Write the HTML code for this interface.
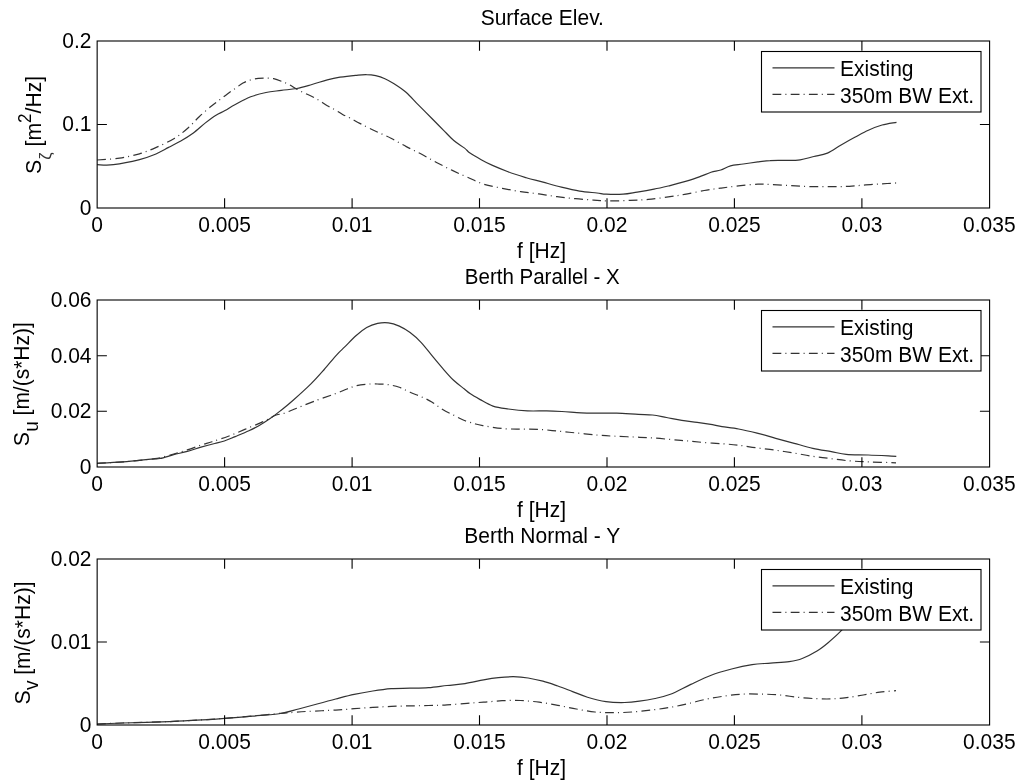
<!DOCTYPE html>
<html><head><meta charset="utf-8"><style>
html,body{margin:0;padding:0;background:#fff;width:1024px;height:783px;overflow:hidden}
svg{display:block;filter:grayscale(1)}
text{font-family:"Liberation Sans", sans-serif;font-size:21px;fill:#000}
</style></head><body>
<svg width="1024" height="783" viewBox="0 0 1024 783">
<rect width="1024" height="783" fill="#fff"/>
<g>
<path d="M97.2,164.7 C99.9,164.7 106.4,165.5 113.4,164.7 C120.5,163.8 132.7,161.3 139.5,159.6 C146.3,157.9 149.2,156.7 154.0,154.7 C158.8,152.7 164.1,149.7 168.6,147.4 C173.1,145.1 176.7,143.3 180.8,141.0 C184.9,138.7 188.9,136.3 193.0,133.3 C197.1,130.3 201.6,125.9 205.4,122.9 C209.2,119.9 212.7,117.2 216.0,115.2 C219.3,113.2 221.8,112.4 225.0,110.6 C228.2,108.8 231.0,106.8 235.3,104.5 C239.6,102.2 245.6,98.8 250.7,96.8 C255.8,94.8 260.9,93.6 266.0,92.5 C271.1,91.4 276.2,91.1 281.3,90.4 C286.4,89.7 291.6,89.5 296.7,88.5 C301.8,87.5 306.9,85.9 312.0,84.5 C317.1,83.1 322.6,81.1 327.3,79.9 C332.0,78.7 335.3,78.0 340.0,77.2 C344.7,76.4 351.3,75.7 355.7,75.3 C360.1,74.9 363.2,74.5 366.5,74.6 C369.8,74.6 372.6,74.9 375.7,75.6 C378.8,76.3 381.8,77.3 384.9,78.7 C388.0,80.1 390.5,81.5 394.1,83.8 C397.7,86.1 402.2,88.9 406.3,92.5 C410.4,96.1 414.2,100.8 418.6,105.2 C423.0,109.6 428.3,114.9 432.4,119.0 C436.5,123.1 439.5,126.2 443.1,129.8 C446.7,133.4 450.2,137.4 453.8,140.5 C457.4,143.6 461.9,146.0 464.6,148.1 C467.3,150.2 467.2,151.2 470.0,153.1 C472.8,155.0 477.4,157.6 481.2,159.7 C484.9,161.8 488.0,163.4 492.5,165.4 C497.0,167.4 502.4,169.6 508.0,171.7 C513.6,173.8 520.4,175.9 526.2,177.7 C532.1,179.4 537.2,180.6 543.1,182.2 C549.0,183.8 555.3,185.6 561.4,187.1 C567.5,188.6 573.7,190.1 579.6,191.1 C585.5,192.1 592.6,192.5 597.0,193.0 C601.4,193.5 601.9,194.0 606.2,194.2 C610.6,194.4 617.9,194.5 623.1,194.2 C628.3,193.8 632.1,192.9 637.2,192.1 C642.4,191.3 648.5,190.3 654.0,189.2 C659.5,188.1 664.9,186.8 670.0,185.6 C675.1,184.3 679.7,183.1 684.6,181.7 C689.5,180.2 694.9,178.5 699.3,176.9 C703.7,175.3 707.4,173.5 711.0,172.3 C714.6,171.2 717.5,171.1 720.8,170.0 C724.0,168.9 726.8,166.8 730.5,165.8 C734.2,164.8 738.6,164.7 743.2,164.0 C747.8,163.3 753.4,162.5 757.9,161.9 C762.4,161.3 765.5,160.8 770.0,160.6 C774.5,160.3 780.0,160.5 785.0,160.4 C790.0,160.3 795.3,160.5 800.1,159.8 C804.9,159.2 809.2,157.6 813.8,156.5 C818.3,155.4 822.8,155.0 827.4,153.1 C832.0,151.2 836.5,147.5 841.1,144.9 C845.7,142.3 850.2,139.8 854.8,137.3 C859.3,134.9 863.8,132.2 868.4,130.2 C873.0,128.1 877.4,126.3 882.1,125.0 C886.8,123.7 894.1,122.8 896.5,122.3" fill="none" stroke="#333" stroke-width="1.2"/>
<path d="M97.2,160.0 C100.9,159.7 112.5,159.1 119.5,158.1 C126.5,157.1 133.4,155.6 139.5,153.8 C145.6,152.0 150.4,150.0 156.3,147.4 C162.2,144.8 169.3,141.5 174.7,138.2 C180.1,134.9 184.4,131.1 188.5,127.5 C192.6,123.9 195.4,120.3 199.2,116.7 C203.0,113.1 208.0,108.8 211.5,106.0 C215.0,103.2 217.3,101.6 220.0,99.6 C222.7,97.5 225.1,95.6 227.7,93.7 C230.2,91.8 232.8,90.2 235.3,88.4 C237.9,86.6 240.4,84.4 243.0,83.0 C245.6,81.6 248.1,80.7 250.7,79.9 C253.2,79.1 255.8,78.7 258.3,78.4 C260.9,78.1 263.4,78.0 266.0,78.1 C268.6,78.1 271.1,78.2 273.7,78.7 C276.2,79.2 278.8,80.2 281.3,81.2 C283.9,82.2 286.4,83.2 289.0,84.5 C291.6,85.8 294.1,87.7 296.7,89.1 C299.2,90.5 301.8,91.8 304.3,93.0 C306.9,94.2 309.4,95.2 312.0,96.5 C314.6,97.8 317.1,99.1 319.6,100.6 C322.2,102.1 324.7,104.2 327.3,105.7 C329.9,107.2 332.4,108.3 335.0,109.8 C337.6,111.2 340.1,113.0 342.6,114.4 C345.1,115.8 347.1,116.5 350.0,118.0 C352.9,119.5 356.0,121.4 360.3,123.6 C364.6,125.8 370.6,128.9 375.7,131.3 C380.8,133.7 385.9,135.6 391.0,138.2 C396.1,140.8 401.2,143.9 406.3,146.6 C411.4,149.3 416.6,151.6 421.7,154.3 C426.8,157.0 431.9,160.0 437.0,162.7 C442.1,165.4 447.2,168.0 452.3,170.4 C457.4,172.8 462.3,175.0 467.6,177.3 C472.9,179.6 478.2,182.5 484.0,184.3 C489.8,186.1 496.2,187.1 502.3,188.3 C508.4,189.5 514.5,190.7 520.6,191.6 C526.7,192.5 532.8,193.1 538.9,193.9 C545.0,194.8 551.0,195.9 557.1,196.7 C563.2,197.5 569.3,198.1 575.4,198.7 C581.5,199.3 588.1,199.7 593.7,200.1 C599.3,200.5 602.9,200.8 609.0,200.9 C615.1,201.0 623.5,200.7 630.1,200.4 C636.7,200.2 641.8,200.0 648.4,199.4 C655.0,198.8 664.0,197.5 670.0,196.7 C676.0,195.9 678.9,195.4 684.6,194.4 C690.3,193.4 698.2,191.6 704.2,190.5 C710.2,189.4 715.1,188.9 720.8,188.1 C726.5,187.3 732.2,186.6 738.4,185.9 C744.6,185.2 752.6,184.4 757.9,184.2 C763.2,184.0 764.6,184.3 770.0,184.5 C775.4,184.7 783.7,185.2 790.5,185.6 C797.3,185.9 804.2,186.4 811.0,186.6 C817.8,186.8 825.1,186.6 831.5,186.6 C837.9,186.6 843.6,186.6 849.3,186.3 C855.0,186.0 860.2,185.3 865.7,184.9 C871.2,184.5 876.9,184.1 882.1,183.8 C887.3,183.5 894.5,183.1 897.0,182.9" fill="none" stroke="#333" stroke-width="1.2" stroke-dasharray="8.8 4.1 1 4.3"/>
<rect x="97.15" y="41.0" width="892.45" height="167.0" fill="none" stroke="#000" stroke-width="1.1"/>
<text transform="translate(97.2,232.4) scale(1,1.040)" text-anchor="middle">0</text>
<path d="M224.6,208.0 v-9.7 M224.6,41.0 v9.7" stroke="#000" stroke-width="1.1"/>
<text transform="translate(224.6,232.4) scale(1,1.040)" text-anchor="middle">0.005</text>
<path d="M352.1,208.0 v-9.7 M352.1,41.0 v9.7" stroke="#000" stroke-width="1.1"/>
<text transform="translate(352.1,232.4) scale(1,1.040)" text-anchor="middle">0.01</text>
<path d="M479.5,208.0 v-9.7 M479.5,41.0 v9.7" stroke="#000" stroke-width="1.1"/>
<text transform="translate(479.5,232.4) scale(1,1.040)" text-anchor="middle">0.015</text>
<path d="M607.0,208.0 v-9.7 M607.0,41.0 v9.7" stroke="#000" stroke-width="1.1"/>
<text transform="translate(607.0,232.4) scale(1,1.040)" text-anchor="middle">0.02</text>
<path d="M734.4,208.0 v-9.7 M734.4,41.0 v9.7" stroke="#000" stroke-width="1.1"/>
<text transform="translate(734.4,232.4) scale(1,1.040)" text-anchor="middle">0.025</text>
<path d="M861.9,208.0 v-9.7 M861.9,41.0 v9.7" stroke="#000" stroke-width="1.1"/>
<text transform="translate(861.9,232.4) scale(1,1.040)" text-anchor="middle">0.03</text>
<text transform="translate(989.3,232.4) scale(1,1.040)" text-anchor="middle">0.035</text>
<text transform="translate(91.5,214.8) scale(1,1.040)" text-anchor="end">0</text>
<path d="M97.2,124.5 h9.7 M989.6,124.5 h-9.7" stroke="#000" stroke-width="1.1"/>
<text transform="translate(91.5,131.3) scale(1,1.040)" text-anchor="end">0.1</text>
<text transform="translate(91.5,47.8) scale(1,1.040)" text-anchor="end">0.2</text>
<text transform="translate(542.3,24.8) scale(1,1.040)" text-anchor="middle">Surface Elev.</text>
<text transform="translate(541.5,257.7) scale(1,1.040)" text-anchor="middle">f [Hz]</text>
<text transform="translate(40.6,124.9) rotate(-90) scale(1,1.04)" text-anchor="middle" style="font-size:21.2px"><tspan font-size="21.5">S</tspan><tspan font-size="16.5" dy="10" style="fill:#333">ζ</tspan><tspan dy="-10"> [m</tspan><tspan font-size="17" dy="-9.5">2</tspan><tspan dy="9.5">/Hz]</tspan></text>
<rect x="761.5" y="51.5" width="219.5" height="60.5" fill="#fff" stroke="#000" stroke-width="1.1"/>
<path d="M772.5,67.8 H834.5" stroke="#333" stroke-width="1.2"/>
<path d="M772.5,94.4 H834.5" stroke="#333" stroke-width="1.2" stroke-dasharray="8.8 4.1 1 4.3"/>
<text transform="translate(840.0,75.6) scale(1,1.040)">Existing</text>
<text transform="translate(840.0,102.6) scale(1,1.040)">350m BW Ext.</text>
</g>
<g>
<path d="M97.2,463.3 C101.5,463.1 114.1,462.6 123.1,461.9 C132.1,461.2 145.0,459.7 151.2,459.1 C157.3,458.5 156.2,459.2 160.0,458.5 C163.8,457.8 169.1,455.9 173.7,454.7 C178.2,453.5 182.8,452.6 187.3,451.3 C191.9,450.1 196.4,448.5 201.0,447.2 C205.6,445.9 210.8,444.5 214.7,443.5 C218.6,442.5 220.9,442.1 224.3,441.0 C227.7,439.9 231.1,438.3 235.2,436.6 C239.3,434.9 245.0,432.6 248.9,430.8 C252.8,429.0 255.0,427.9 258.4,426.0 C261.8,424.1 265.8,421.6 269.4,419.1 C273.0,416.6 276.4,414.0 280.3,410.9 C284.2,407.8 287.5,405.2 292.6,400.7 C297.8,396.1 305.9,388.8 311.2,383.6 C316.5,378.4 319.9,374.4 324.2,369.5 C328.5,364.6 333.7,358.1 337.2,354.3 C340.7,350.5 341.9,349.8 345.0,346.7 C348.1,343.6 352.3,339.0 355.9,335.8 C359.5,332.6 363.1,329.7 366.7,327.6 C370.3,325.5 374.0,324.2 377.6,323.4 C381.2,322.6 384.8,322.4 388.4,322.8 C392.0,323.2 395.7,324.5 399.3,326.1 C402.9,327.7 406.5,329.9 410.1,332.6 C413.7,335.3 417.4,338.5 421.0,342.3 C424.6,346.1 428.2,351.0 431.8,355.4 C435.4,359.8 439.1,364.2 442.7,368.4 C446.3,372.5 450.0,376.9 453.6,380.3 C457.2,383.7 461.7,386.8 464.4,389.0 C467.1,391.2 467.4,391.8 470.0,393.6 C472.6,395.4 476.4,397.5 480.2,399.6 C484.0,401.7 488.3,404.5 493.0,406.1 C497.7,407.7 502.6,408.2 508.3,409.0 C514.0,409.8 521.1,410.6 527.5,410.9 C533.9,411.2 540.9,410.8 546.6,410.9 C552.4,411.0 556.2,411.2 562.0,411.5 C567.8,411.8 574.8,412.5 581.1,412.8 C587.4,413.1 594.1,413.1 600.0,413.2 C605.9,413.3 610.3,413.0 616.7,413.2 C623.1,413.4 632.4,414.1 638.4,414.4 C644.4,414.7 647.8,414.5 652.5,415.0 C657.2,415.5 661.6,416.6 666.5,417.5 C671.4,418.4 676.7,419.6 681.8,420.4 C686.9,421.2 692.1,421.7 697.2,422.4 C702.3,423.1 708.4,424.0 712.5,424.7 C716.6,425.4 717.6,425.9 722.0,426.6 C726.4,427.3 732.8,427.9 738.6,429.0 C744.5,430.1 750.9,431.6 757.1,433.1 C763.3,434.7 769.5,436.6 775.7,438.3 C781.9,440.0 788.0,441.6 794.2,443.3 C800.4,445.0 806.6,446.9 812.8,448.3 C819.0,449.7 825.7,450.6 831.3,451.6 C836.9,452.6 840.0,453.8 846.2,454.4 C852.4,455.0 860.0,454.7 868.4,455.0 C876.8,455.3 891.6,456.1 896.3,456.3" fill="none" stroke="#333" stroke-width="1.2"/>
<path d="M97.2,463.3 C101.5,463.1 114.1,462.6 123.1,461.9 C132.1,461.2 145.0,459.8 151.2,459.1 C157.3,458.4 156.2,458.7 160.0,457.8 C163.8,456.9 169.1,455.3 173.7,454.0 C178.2,452.7 182.8,451.4 187.3,449.9 C191.9,448.4 196.9,446.5 201.0,445.1 C205.1,443.7 207.4,443.2 212.0,441.7 C216.6,440.2 222.9,438.2 228.4,436.2 C233.9,434.1 239.1,431.8 244.8,429.4 C250.5,427.0 257.3,424.3 262.5,421.9 C267.7,419.5 272.8,416.4 276.2,415.0 C279.6,413.6 279.6,414.8 283.0,413.7 C286.4,412.6 290.9,410.5 296.7,408.2 C302.5,405.9 311.3,402.3 317.7,399.9 C324.1,397.5 330.2,395.6 335.1,393.8 C340.0,392.0 343.5,390.3 347.0,389.0 C350.5,387.7 352.6,386.6 355.9,385.8 C359.2,385.0 363.1,384.5 366.7,384.2 C370.3,383.9 374.0,383.9 377.6,384.0 C381.2,384.1 384.8,384.1 388.4,384.7 C392.0,385.2 395.7,386.0 399.3,387.3 C402.9,388.6 406.5,390.8 410.1,392.3 C413.7,393.9 417.4,395.0 421.0,396.6 C424.6,398.2 428.2,399.8 431.8,402.0 C435.4,404.2 439.1,407.4 442.7,409.6 C446.3,411.8 450.0,413.3 453.6,415.1 C457.2,416.9 460.8,419.1 464.4,420.5 C468.0,421.9 471.9,422.9 475.0,423.8 C478.1,424.7 478.3,424.8 482.8,425.6 C487.3,426.4 495.5,427.9 501.9,428.5 C508.3,429.1 514.7,429.0 521.1,429.1 C527.5,429.2 533.8,429.0 540.2,429.4 C546.6,429.8 553.0,430.7 559.4,431.3 C565.8,431.9 572.2,432.6 578.6,433.2 C585.0,433.8 591.8,434.6 597.7,435.1 C603.6,435.6 608.3,435.9 614.2,436.2 C620.1,436.5 626.9,436.7 633.3,437.0 C639.7,437.3 646.1,437.5 652.5,437.9 C658.9,438.3 665.9,439.1 671.6,439.6 C677.4,440.1 681.7,440.4 687.0,440.9 C692.3,441.4 697.6,442.0 703.6,442.5 C709.6,443.0 716.9,443.4 722.7,443.8 C728.5,444.2 732.9,444.5 738.6,445.2 C744.3,445.9 750.9,447.1 757.1,447.9 C763.3,448.7 769.5,449.3 775.7,450.2 C781.9,451.1 788.0,452.1 794.2,453.1 C800.4,454.1 806.6,455.4 812.8,456.3 C819.0,457.2 825.1,457.9 831.3,458.7 C837.5,459.5 843.7,460.4 849.9,460.9 C856.1,461.4 860.7,461.6 868.4,461.9 C876.1,462.2 891.4,462.6 896.0,462.8" fill="none" stroke="#333" stroke-width="1.2" stroke-dasharray="8.8 4.1 1 4.3"/>
<rect x="97.15" y="300.0" width="892.45" height="167.0" fill="none" stroke="#000" stroke-width="1.1"/>
<text transform="translate(97.2,491.4) scale(1,1.040)" text-anchor="middle">0</text>
<path d="M224.6,467.0 v-9.7 M224.6,300.0 v9.7" stroke="#000" stroke-width="1.1"/>
<text transform="translate(224.6,491.4) scale(1,1.040)" text-anchor="middle">0.005</text>
<path d="M352.1,467.0 v-9.7 M352.1,300.0 v9.7" stroke="#000" stroke-width="1.1"/>
<text transform="translate(352.1,491.4) scale(1,1.040)" text-anchor="middle">0.01</text>
<path d="M479.5,467.0 v-9.7 M479.5,300.0 v9.7" stroke="#000" stroke-width="1.1"/>
<text transform="translate(479.5,491.4) scale(1,1.040)" text-anchor="middle">0.015</text>
<path d="M607.0,467.0 v-9.7 M607.0,300.0 v9.7" stroke="#000" stroke-width="1.1"/>
<text transform="translate(607.0,491.4) scale(1,1.040)" text-anchor="middle">0.02</text>
<path d="M734.4,467.0 v-9.7 M734.4,300.0 v9.7" stroke="#000" stroke-width="1.1"/>
<text transform="translate(734.4,491.4) scale(1,1.040)" text-anchor="middle">0.025</text>
<path d="M861.9,467.0 v-9.7 M861.9,300.0 v9.7" stroke="#000" stroke-width="1.1"/>
<text transform="translate(861.9,491.4) scale(1,1.040)" text-anchor="middle">0.03</text>
<text transform="translate(989.3,491.4) scale(1,1.040)" text-anchor="middle">0.035</text>
<text transform="translate(91.5,473.8) scale(1,1.040)" text-anchor="end">0</text>
<path d="M97.2,411.3 h9.7 M989.6,411.3 h-9.7" stroke="#000" stroke-width="1.1"/>
<text transform="translate(91.5,418.1) scale(1,1.040)" text-anchor="end">0.02</text>
<path d="M97.2,355.7 h9.7 M989.6,355.7 h-9.7" stroke="#000" stroke-width="1.1"/>
<text transform="translate(91.5,362.5) scale(1,1.040)" text-anchor="end">0.04</text>
<text transform="translate(91.5,306.8) scale(1,1.040)" text-anchor="end">0.06</text>
<text transform="translate(542.3,283.8) scale(1,1.040)" text-anchor="middle" textLength="155" lengthAdjust="spacingAndGlyphs">Berth Parallel - X</text>
<text transform="translate(541.5,516.7) scale(1,1.040)" text-anchor="middle">f [Hz]</text>
<text transform="translate(29.4,384.2) rotate(-90) scale(1,1.04)" text-anchor="middle" style="font-size:21px"><tspan font-size="21.5">S</tspan><tspan font-size="19" dy="8">u</tspan><tspan dy="-8"> [m/(s*Hz)]</tspan></text>
<rect x="761.5" y="310.5" width="219.5" height="60.5" fill="#fff" stroke="#000" stroke-width="1.1"/>
<path d="M772.5,326.8 H834.5" stroke="#333" stroke-width="1.2"/>
<path d="M772.5,353.4 H834.5" stroke="#333" stroke-width="1.2" stroke-dasharray="8.8 4.1 1 4.3"/>
<text transform="translate(840.0,334.6) scale(1,1.040)">Existing</text>
<text transform="translate(840.0,361.6) scale(1,1.040)">350m BW Ext.</text>
</g>
<g>
<path d="M97.2,724.0 C101.5,723.8 110.8,723.4 122.8,723.0 C134.8,722.6 156.8,722.1 169.2,721.6 C181.6,721.1 187.7,720.8 197.0,720.2 C206.3,719.7 215.6,719.0 224.9,718.3 C234.2,717.6 243.4,716.9 252.7,716.1 C262.0,715.3 273.0,714.7 280.6,713.5 C288.2,712.3 292.5,710.6 298.6,709.0 C304.7,707.4 310.9,705.7 317.1,704.0 C323.3,702.3 329.5,700.6 335.7,699.0 C341.9,697.4 348.0,695.7 354.2,694.4 C360.4,693.1 366.6,692.0 372.8,691.0 C379.0,690.0 385.1,689.1 391.3,688.6 C397.5,688.1 403.7,688.4 409.9,688.2 C416.1,688.1 422.3,688.2 428.5,687.7 C434.7,687.2 440.9,686.2 447.0,685.5 C453.1,684.8 458.9,684.5 465.0,683.6 C471.1,682.7 478.0,680.9 483.6,679.9 C489.2,678.9 493.5,678.2 498.4,677.7 C503.3,677.2 508.3,676.7 513.2,676.7 C518.2,676.8 523.2,677.2 528.1,678.0 C533.0,678.8 538.0,679.9 542.9,681.2 C547.8,682.5 552.8,684.3 557.8,686.0 C562.8,687.7 567.6,689.7 572.6,691.6 C577.6,693.5 581.9,695.5 587.5,697.2 C593.1,698.9 599.8,700.7 606.0,701.6 C612.2,702.5 619.0,702.6 624.6,702.5 C630.2,702.4 634.3,701.9 639.4,701.2 C644.5,700.5 649.8,699.6 655.0,698.5 C660.2,697.4 664.4,696.6 670.4,694.3 C676.4,691.9 684.0,687.6 690.8,684.4 C697.6,681.2 704.4,677.8 711.2,675.2 C718.0,672.6 724.8,670.8 731.6,669.0 C738.4,667.2 745.6,665.6 752.1,664.6 C758.6,663.6 764.4,663.6 770.6,663.1 C776.8,662.6 783.9,662.4 789.2,661.6 C794.5,660.8 797.6,660.3 802.2,658.5 C806.8,656.7 812.7,653.6 817.0,651.0 C821.3,648.4 824.3,645.9 828.1,642.7 C831.9,639.5 836.0,636.0 840.0,631.9 C844.0,627.8 847.7,623.3 852.0,618.0 C856.3,612.7 861.3,605.5 866.0,600.0 C870.7,594.5 874.8,589.2 880.0,585.0 C885.2,580.8 894.2,576.7 897.0,575.0" fill="none" stroke="#333" stroke-width="1.2"/>
<path d="M97.2,724.0 C101.5,723.8 110.8,723.4 122.8,723.0 C134.8,722.6 156.8,722.1 169.2,721.6 C181.6,721.1 187.7,720.8 197.0,720.2 C206.3,719.7 215.6,719.0 224.9,718.3 C234.2,717.6 243.4,716.9 252.7,716.1 C262.0,715.3 274.5,713.9 280.6,713.3 C286.7,712.7 284.8,713.0 289.3,712.7 C293.8,712.4 300.1,711.8 307.8,711.4 C315.5,711.0 328.0,710.5 335.7,710.1 C343.4,709.7 348.0,709.2 354.2,708.7 C360.4,708.2 366.6,707.8 372.8,707.4 C379.0,707.0 385.1,706.6 391.3,706.4 C397.5,706.1 403.7,706.0 409.9,705.9 C416.1,705.8 422.3,705.7 428.5,705.5 C434.7,705.3 440.6,705.3 447.0,704.9 C453.4,704.5 460.9,703.8 467.0,703.3 C473.1,702.8 477.8,702.6 483.6,702.2 C489.5,701.8 495.9,701.0 502.1,700.7 C508.3,700.4 514.5,700.2 520.7,700.5 C526.9,700.8 533.0,701.4 539.2,702.2 C545.4,703.0 551.6,704.2 557.8,705.3 C564.0,706.4 570.1,707.9 576.3,709.0 C582.5,710.1 588.7,711.4 594.9,712.0 C601.1,712.6 607.2,712.7 613.4,712.7 C619.6,712.7 625.8,712.4 632.0,712.0 C638.2,711.6 644.5,710.8 650.6,710.1 C656.7,709.4 662.5,708.6 668.6,707.6 C674.7,706.6 680.9,705.3 687.1,703.9 C693.3,702.5 699.5,700.6 705.7,699.3 C711.9,698.0 718.0,697.0 724.2,696.1 C730.4,695.2 736.6,694.4 742.8,694.1 C749.0,693.8 755.1,694.0 761.3,694.1 C767.5,694.2 773.7,694.5 779.9,695.0 C786.1,695.5 792.3,696.8 798.5,697.4 C804.7,698.0 811.4,698.5 817.0,698.7 C822.6,699.0 827.1,699.1 832.0,698.9 C836.9,698.7 841.4,698.2 846.6,697.6 C851.8,697.0 857.7,695.9 863.2,695.0 C868.7,694.1 874.3,692.9 879.8,692.2 C885.3,691.5 893.3,690.9 896.0,690.6" fill="none" stroke="#333" stroke-width="1.2" stroke-dasharray="8.8 4.1 1 4.3"/>
<rect x="97.15" y="559.0" width="892.45" height="166.0" fill="none" stroke="#000" stroke-width="1.1"/>
<text transform="translate(97.2,749.4) scale(1,1.040)" text-anchor="middle">0</text>
<path d="M224.6,725.0 v-9.7 M224.6,559.0 v9.7" stroke="#000" stroke-width="1.1"/>
<text transform="translate(224.6,749.4) scale(1,1.040)" text-anchor="middle">0.005</text>
<path d="M352.1,725.0 v-9.7 M352.1,559.0 v9.7" stroke="#000" stroke-width="1.1"/>
<text transform="translate(352.1,749.4) scale(1,1.040)" text-anchor="middle">0.01</text>
<path d="M479.5,725.0 v-9.7 M479.5,559.0 v9.7" stroke="#000" stroke-width="1.1"/>
<text transform="translate(479.5,749.4) scale(1,1.040)" text-anchor="middle">0.015</text>
<path d="M607.0,725.0 v-9.7 M607.0,559.0 v9.7" stroke="#000" stroke-width="1.1"/>
<text transform="translate(607.0,749.4) scale(1,1.040)" text-anchor="middle">0.02</text>
<path d="M734.4,725.0 v-9.7 M734.4,559.0 v9.7" stroke="#000" stroke-width="1.1"/>
<text transform="translate(734.4,749.4) scale(1,1.040)" text-anchor="middle">0.025</text>
<path d="M861.9,725.0 v-9.7 M861.9,559.0 v9.7" stroke="#000" stroke-width="1.1"/>
<text transform="translate(861.9,749.4) scale(1,1.040)" text-anchor="middle">0.03</text>
<text transform="translate(989.3,749.4) scale(1,1.040)" text-anchor="middle">0.035</text>
<text transform="translate(91.5,731.8) scale(1,1.040)" text-anchor="end">0</text>
<path d="M97.2,642.0 h9.7 M989.6,642.0 h-9.7" stroke="#000" stroke-width="1.1"/>
<text transform="translate(91.5,648.8) scale(1,1.040)" text-anchor="end">0.01</text>
<text transform="translate(91.5,565.8) scale(1,1.040)" text-anchor="end">0.02</text>
<text transform="translate(542.3,542.8) scale(1,1.040)" text-anchor="middle">Berth Normal - Y</text>
<text transform="translate(541.5,774.7) scale(1,1.040)" text-anchor="middle">f [Hz]</text>
<text transform="translate(29.9,643) rotate(-90) scale(1,1.04)" text-anchor="middle" style="font-size:21px"><tspan font-size="21.5">S</tspan><tspan font-size="19" dy="8">v</tspan><tspan dy="-8"> [m/(s*Hz)]</tspan></text>
<rect x="761.5" y="569.5" width="219.5" height="60.5" fill="#fff" stroke="#000" stroke-width="1.1"/>
<path d="M772.5,585.8 H834.5" stroke="#333" stroke-width="1.2"/>
<path d="M772.5,612.4 H834.5" stroke="#333" stroke-width="1.2" stroke-dasharray="8.8 4.1 1 4.3"/>
<text transform="translate(840.0,593.6) scale(1,1.040)">Existing</text>
<text transform="translate(840.0,620.6) scale(1,1.040)">350m BW Ext.</text>
</g>
</svg>
</body></html>
